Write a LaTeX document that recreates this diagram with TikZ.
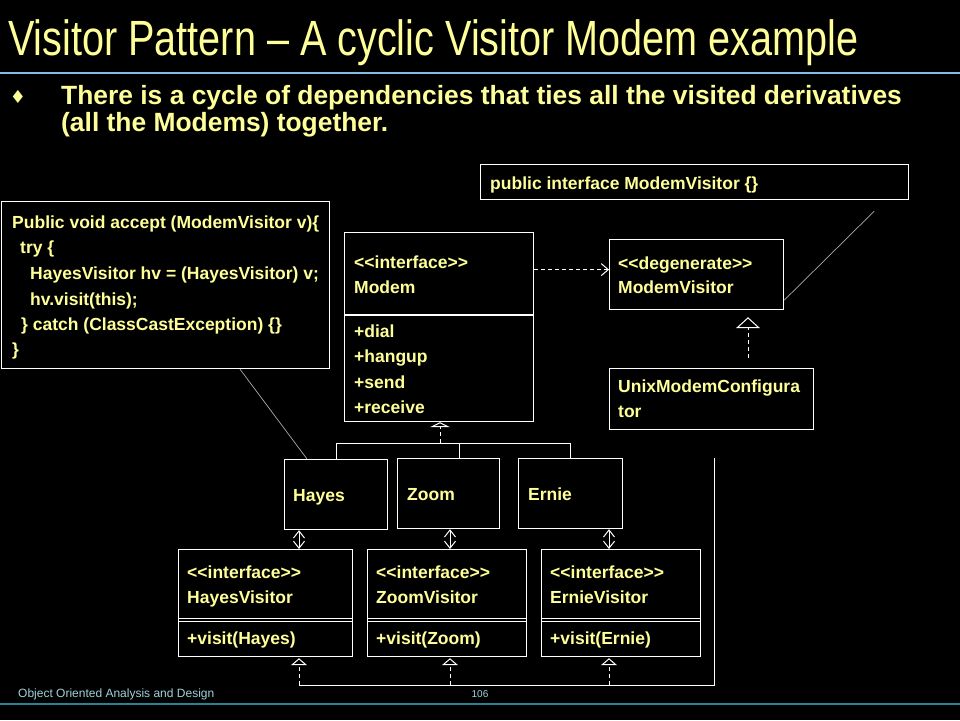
\documentclass[tikz,border=0pt]{standalone}
\usepackage{fontspec}
\setmainfont{Liberation Sans}
\newfontfamily\narrowfont[FakeStretch=0.80]{Liberation Sans}
\newfontfamily\symfont{DejaVu Sans}
\usetikzlibrary{arrows.meta,calc}
\definecolor{txtyellow}{RGB}{255,255,153}
\definecolor{titleline}{RGB}{130,190,225}
\definecolor{footline}{RGB}{40,130,150}
\definecolor{foottext}{RGB}{160,210,220}
\definecolor{notegrey}{RGB}{170,170,170}
\tikzset{
  umlbox/.style={draw=white, line width=1.2pt, fill=black, inner sep=0pt, anchor=north west},
  dtext/.style={text=txtyellow, font=\bfseries\fontsize{17.5}{20}\selectfont, anchor=base west, inner sep=0pt},
  conn/.style={draw=white, line width=1pt},
  dashconn/.style={draw=white, line width=1pt, dash pattern=on 4pt off 3pt},
  dep/.style={dashconn, -{Straight Barb[length=7pt,width=12pt,line width=1pt]}},
  realz/.style={dashconn, -{Triangle[open,length=7pt,width=16pt,line width=1pt]}},
  realbig/.style={dashconn, -{Triangle[open,length=11pt,width=24pt,line width=1pt]}},
  realflat/.style={dashconn, -{Triangle[open,length=5pt,width=20pt,line width=1pt]}},
  dbl/.style={conn, {Straight Barb[length=7pt,width=11pt,line width=1pt]}-{Straight Barb[length=7pt,width=11pt,line width=1pt]}},
  noteline/.style={draw=notegrey, line width=0.7pt}
}
\begin{document}
\begin{tikzpicture}[x=1pt,y=-1pt]
\useasboundingbox (0,0) rectangle (960,720);
\fill[black] (0,0) rectangle (960,720);

% title and bullet
\node[anchor=base west, inner sep=0pt, text=txtyellow, font=\narrowfont\fontsize{49.5}{55}\selectfont] (title) at (8,55) {Visitor Pattern – A cyclic Visitor Modem example};
\draw[titleline, line width=1.2pt] (0,73) -- (960,73);
\node[inner sep=0pt, text=txtyellow, font=\symfont\fontsize{18}{20}\selectfont] (bullet) at (18,97) {♦};
\node[anchor=base west, inner sep=0pt, text=txtyellow, font=\bfseries\fontsize{26.4}{28}\selectfont] (b1) at (61,104) {There is a cycle of dependencies that ties all the visited derivatives};
\node[anchor=base west, inner sep=0pt, text=txtyellow, font=\bfseries\fontsize{26.4}{28}\selectfont] (b2) at (61,131) {(all the Modems) together.};

% footer
\draw[footline, line width=1.2pt] (0,704) -- (960,704);
\node[anchor=base west, inner sep=0pt, text=foottext, font=\fontsize{12}{14}\selectfont] (foot) at (18,697) {Object Oriented Analysis and Design};
\node[anchor=base, inner sep=0pt, text=foottext, font=\fontsize{10}{12}\selectfont] (pagenum) at (480,697) {106};

% boxes
\node[umlbox, minimum width=328pt, minimum height=167pt] (code) at (1,201) {};
\node[umlbox, minimum width=428pt, minimum height=35pt] (note) at (480,164) {};
\node[umlbox, minimum width=189pt, minimum height=189pt] (modem) at (344,232) {};
\draw[white, line width=1.2pt] ($(modem.north west)+(0,83)$) -- ($(modem.north east)+(0,83)$);
\node[umlbox, minimum width=174pt, minimum height=70pt] (mvis) at (609,239) {};
\node[umlbox, minimum width=204pt, minimum height=61pt] (unix) at (609,368) {};
\node[umlbox, minimum width=103pt, minimum height=70pt] (hayes) at (284,459) {};
\node[umlbox, minimum width=102pt, minimum height=70pt] (zoom) at (397,458) {};
\node[umlbox, minimum width=104pt, minimum height=70pt] (ernie) at (518,458) {};
\node[umlbox, minimum width=174pt, minimum height=107pt] (hv) at (178,549) {};
\node[umlbox, minimum width=159pt, minimum height=107pt] (zv) at (367,549) {};
\node[umlbox, minimum width=159pt, minimum height=107pt] (ev) at (541,549) {};
\foreach \b in {hv,zv,ev}{
  \draw[white, line width=1pt] ($(\b.north west)+(0,69)$) -- ($(\b.north east)+(0,69)$);
  \draw[white, line width=1pt] ($(\b.north west)+(0,72)$) -- ($(\b.north east)+(0,72)$);
}

% texts
\node[dtext] (c1) at (12,228) {Public void accept (ModemVisitor v)\{};
\node[dtext] (c2) at (20,253) {try \{};
\node[dtext] (c3) at (30,279) {HayesVisitor hv = (HayesVisitor) v;};
\node[dtext] (c4) at (30,305) {hv.visit(this);};
\node[dtext] (c5) at (21,330) {\} catch (ClassCastException) \{\}};
\node[dtext] (c6) at (12,355) {\}};
\node[dtext] (nt) at (490,189) {public interface ModemVisitor \{\}};
\node[dtext] (m1) at (354,268) {<{}<interface>{}>};
\node[dtext] (m2) at (354,293) {Modem};
\node[dtext] (m3) at (354,337) {+dial};
\node[dtext] (m4) at (354,362) {+hangup};
\node[dtext] (m5) at (354,388) {+send};
\node[dtext] (m6) at (354,413) {+receive};
\node[dtext] (v1) at (618,269) {<{}<degenerate>{}>};
\node[dtext] (v2) at (618,293) {ModemVisitor};
\node[dtext] (u1) at (618,392) {UnixModemConfigura};
\node[dtext] (u2) at (618,417) {tor};
\node[dtext] (ht) at (293,501) {Hayes};
\node[dtext] (zt) at (407,500) {Zoom};
\node[dtext] (et) at (528,500) {Ernie};
\node[dtext] (hv1) at (187,578) {<{}<interface>{}>};
\node[dtext] (hv2) at (187,603) {HayesVisitor};
\node[dtext] (hv3) at (187,644) {+visit(Hayes)};
\node[dtext] (zv1) at (376,578) {<{}<interface>{}>};
\node[dtext] (zv2) at (376,603) {ZoomVisitor};
\node[dtext] (zv3) at (376,644) {+visit(Zoom)};
\node[dtext] (ev1) at (550,578) {<{}<interface>{}>};
\node[dtext] (ev2) at (550,603) {ErnieVisitor};
\node[dtext] (ev3) at (550,644) {+visit(Ernie)};

% connectors
\draw[dep] ($(modem.east |- mvis.west)+(0,-5)$) -- ($(mvis.west)+(0,-5)$);
\draw[realbig] ($(unix.north west)+(139,-10)$) -- ($(mvis.south west)+(139,7)$);

\coordinate (junc) at (440,443);
\draw[realflat] (junc) -- (junc |- modem.south);
\draw[conn] (hayes.north) |- (ernie.north |- junc) -- (ernie.north);
\coordinate (zb) at ($(zoom.north west)+(62,0)$);
\draw[conn] (zb) -- (zb |- junc);

\coordinate (ha) at ($(hayes.south west)+(15,0)$);
\coordinate (za) at ($(zoom.south west)+(53,0)$);
\coordinate (ea) at ($(ernie.south west)+(91,0)$);
\draw[dbl] (ha) -- (ha |- hv.north);
\draw[dbl] (za) -- (za |- zv.north);
\draw[dbl] (ea) -- (ea |- ev.north);

\coordinate (cyctop) at (714,458);
\coordinate (cycbot) at (714,685);
\coordinate (hb) at (ha |- hv.south);
\coordinate (zbt) at (za |- zv.south);
\coordinate (ebt) at (ea |- ev.south);
\draw[conn] (cyctop) -- (cycbot) -- (cycbot -| hb);
\draw[realz] (cycbot -| hb) -- ([yshift=-1pt]hb);
\draw[realz] (cycbot -| zbt) -- ([yshift=-1pt]zbt);
\draw[realz] (cycbot -| ebt) -- ([yshift=-1pt]ebt);

\draw[noteline] ($(code.south west)+(239,0)$) -- ($(hayes.north west)+(23,0)$);
\coordinate (noteend) at ($(note.south east)+(-35,11)$);
\draw[noteline] ($(mvis.south east)+(0,-10)$) -- (noteend);
\end{tikzpicture}
\end{document}
